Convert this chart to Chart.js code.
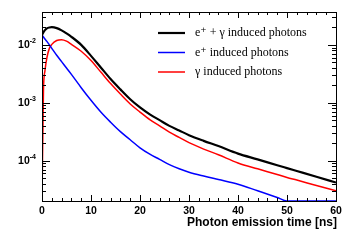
<!DOCTYPE html>
<html>
<head>
<meta charset="utf-8">
<script src="https://cdn.jsdelivr.net/npm/chart.js@4.4.1/dist/chart.umd.min.js"></script>
<style>
  html, body { margin: 0; padding: 0; background: #fff; }
  #wrap { width: 355px; height: 240px; }
</style>
</head>
<body>
<div id="wrap"><canvas id="photonChart" width="355" height="240"></canvas></div>
<script>
// ---- data ----
const timeNs = [0, 0.3, 0.6, 1, 1.5, 2, 3, 4, 5, 6, 8, 10, 12, 14, 16, 18, 20, 22, 24, 26, 28, 30, 33, 36, 40, 44, 48, 50, 52, 56, 60];

const totalPhotons = [0.0148, 0.0166, 0.0180, 0.0193, 0.0200, 0.0202, 0.0195, 0.0178, 0.0158, 0.0138,
  0.0100, 0.00646, 0.00407, 0.00257, 0.00170, 0.00115, 8.3e-4, 6.3e-4, 5.0e-4, 3.98e-4,
  3.31e-4, 2.75e-4, 2.19e-4, 1.78e-4, 1.32e-4, 1.05e-4, 8.3e-5, 7.4e-5, 6.6e-5, 5.25e-5, 4.17e-5];

const positronPhotons = [0.0148, 0.01365, 0.01259, 0.01148, 0.0100, 0.00871, 0.00661, 0.00513, 0.00398, 0.00309,
  0.00182, 0.00110, 6.9e-4, 4.6e-4, 3.16e-4, 2.29e-4, 1.66e-4, 1.29e-4, 1.05e-4, 8.5e-5,
  7.2e-5, 6.3e-5, 5.4e-5, 4.7e-5, 3.9e-5, 3.0e-5, 2.3e-5, 2.0e-5, 2.0e-5, 2.0e-5, 2.0e-5];

const gammaPhotons = [2.0e-5, 0.00166, 0.00355, 0.0060, 0.0087, 0.0102, 0.0119, 0.0123, 0.0116, 0.0102,
  0.00776, 0.00537, 0.00339, 0.00214, 0.00141, 9.5e-4, 6.9e-4, 5.1e-4, 3.98e-4, 3.09e-4,
  2.51e-4, 2.04e-4, 1.58e-4, 1.26e-4, 9.1e-5, 7.2e-5, 5.75e-5, 5.1e-5, 4.6e-5, 3.7e-5, 3.0e-5];

const seriesLabels = ['e\u207A + \u03B3 induced photons', 'e\u207A induced photons', '\u03B3 induced photons'];
const seriesColors = ['#000000', '#0000ff', '#ff0000'];
const xTickValues = [0, 10, 20, 30, 40, 50, 60];
const yDecadeExponents = [-2, -3, -4];
const xTitle = 'Photon emission time [ns]';

const toPoints = (ys) => timeNs.map((t, i) => ({ x: t, y: ys[i] }));

// ROOT style frame, ticks, y labels, axis title and legend
const rootStyle = {
  id: 'rootStyle',
  afterDraw(chart) {
    const { ctx, chartArea: a, scales } = chart;
    const xs = scales.x, ys = scales.y;
    ctx.save();
    ctx.strokeStyle = '#000';
    ctx.lineWidth = 1;
    ctx.strokeRect(Math.round(a.left) + 0.5, Math.round(a.top) + 0.5,
      Math.round(a.right - a.left), Math.round(a.bottom - a.top));

    // x ticks (bottom + top)
    ctx.beginPath();
    for (let v = 0; v <= 60; v += 2) {
      const px = Math.round(xs.getPixelForValue(v)) + 0.5;
      const len = v % 10 === 0 ? 6 : 3;
      ctx.moveTo(px, a.bottom); ctx.lineTo(px, a.bottom - len);
      ctx.moveTo(px, a.top); ctx.lineTo(px, a.top + len);
    }
    // y ticks (left + right)
    for (let e = -5; e <= -2; e++) {
      for (let m = 1; m <= 9; m++) {
        const val = m * Math.pow(10, e);
        if (val < ys.min || val > ys.max) continue;
        const py = Math.round(ys.getPixelForValue(val)) + 0.5;
        const len = m === 1 ? 8 : 4;
        ctx.moveTo(a.left, py); ctx.lineTo(a.left + len, py);
        ctx.moveTo(a.right, py); ctx.lineTo(a.right - len, py);
      }
    }
    ctx.stroke();

    // y labels 10^n
    ctx.fillStyle = '#000';
    ctx.textBaseline = 'middle';
    yDecadeExponents.forEach(e => {
      const py = ys.getPixelForValue(Math.pow(10, e));
      const sup = '-' + Math.abs(e);
      ctx.font = 'bold 7px "Liberation Sans", Arial, sans-serif';
      const supW = ctx.measureText(sup).width;
      const right = a.left - 6;
      ctx.textAlign = 'right';
      ctx.fillText(sup, right, py - 4);
      ctx.font = 'bold 10.5px "Liberation Sans", Arial, sans-serif';
      ctx.fillText('10', right - supW, py + 0.5);
    });

    // x title
    ctx.font = 'bold 12px "Liberation Sans", Arial, sans-serif';
    ctx.textAlign = 'right';
    ctx.fillText(xTitle, a.right + 1, 223);

    // legend
    ctx.font = '12px "Liberation Serif", "DejaVu Serif", serif';
    ctx.textAlign = 'left';
    chart.data.datasets.forEach((ds, i) => {
      const ly = 33 + i * 19.5;
      ctx.strokeStyle = ds.borderColor;
      ctx.lineWidth = ds.borderWidth;
      ctx.beginPath();
      ctx.moveTo(158, ly); ctx.lineTo(185, ly);
      ctx.stroke();
      ctx.fillStyle = '#000';
      ctx.fillText(ds.label, 195, ly);
    });
    ctx.restore();
  }
};

new Chart(document.getElementById('photonChart'), {
  type: 'line',
  data: {
    datasets: [
      { label: seriesLabels[0], data: toPoints(totalPhotons), borderColor: seriesColors[0], borderWidth: 2.2 },
      { label: seriesLabels[1], data: toPoints(positronPhotons), borderColor: seriesColors[1], borderWidth: 1.5 },
      { label: seriesLabels[2], data: toPoints(gammaPhotons), borderColor: seriesColors[2], borderWidth: 1.5 }
    ]
  },
  options: {
    responsive: false,
    animation: false,
    devicePixelRatio: 1,
    layout: { padding: { top: 12, right: 19, left: 0, bottom: 0 } },
    elements: {
      point: { radius: 0 },
      line: { tension: 0.4, cubicInterpolationMode: 'monotone', fill: false }
    },
    plugins: { legend: { display: false }, tooltip: { enabled: false } },
    scales: {
      x: {
        type: 'linear', min: 0, max: 60,
        afterFit: (s) => { s.height = 39; },
        afterBuildTicks: (s) => { s.ticks = xTickValues.map(v => ({ value: v })); },
        grid: { display: false, drawTicks: false },
        border: { display: false },
        ticks: {
          color: '#000', padding: 4, maxRotation: 0, autoSkip: false,
          font: { family: '"Liberation Sans", Arial, sans-serif', weight: 'bold', size: 10.5 }
        }
      },
      y: {
        type: 'logarithmic', min: 2e-5, max: 0.037,
        afterFit: (s) => { s.width = 42; },
        grid: { display: false, drawTicks: false },
        border: { display: false },
        ticks: { display: false }
      }
    }
  },
  plugins: [rootStyle]
});
</script>
</body>
</html>
